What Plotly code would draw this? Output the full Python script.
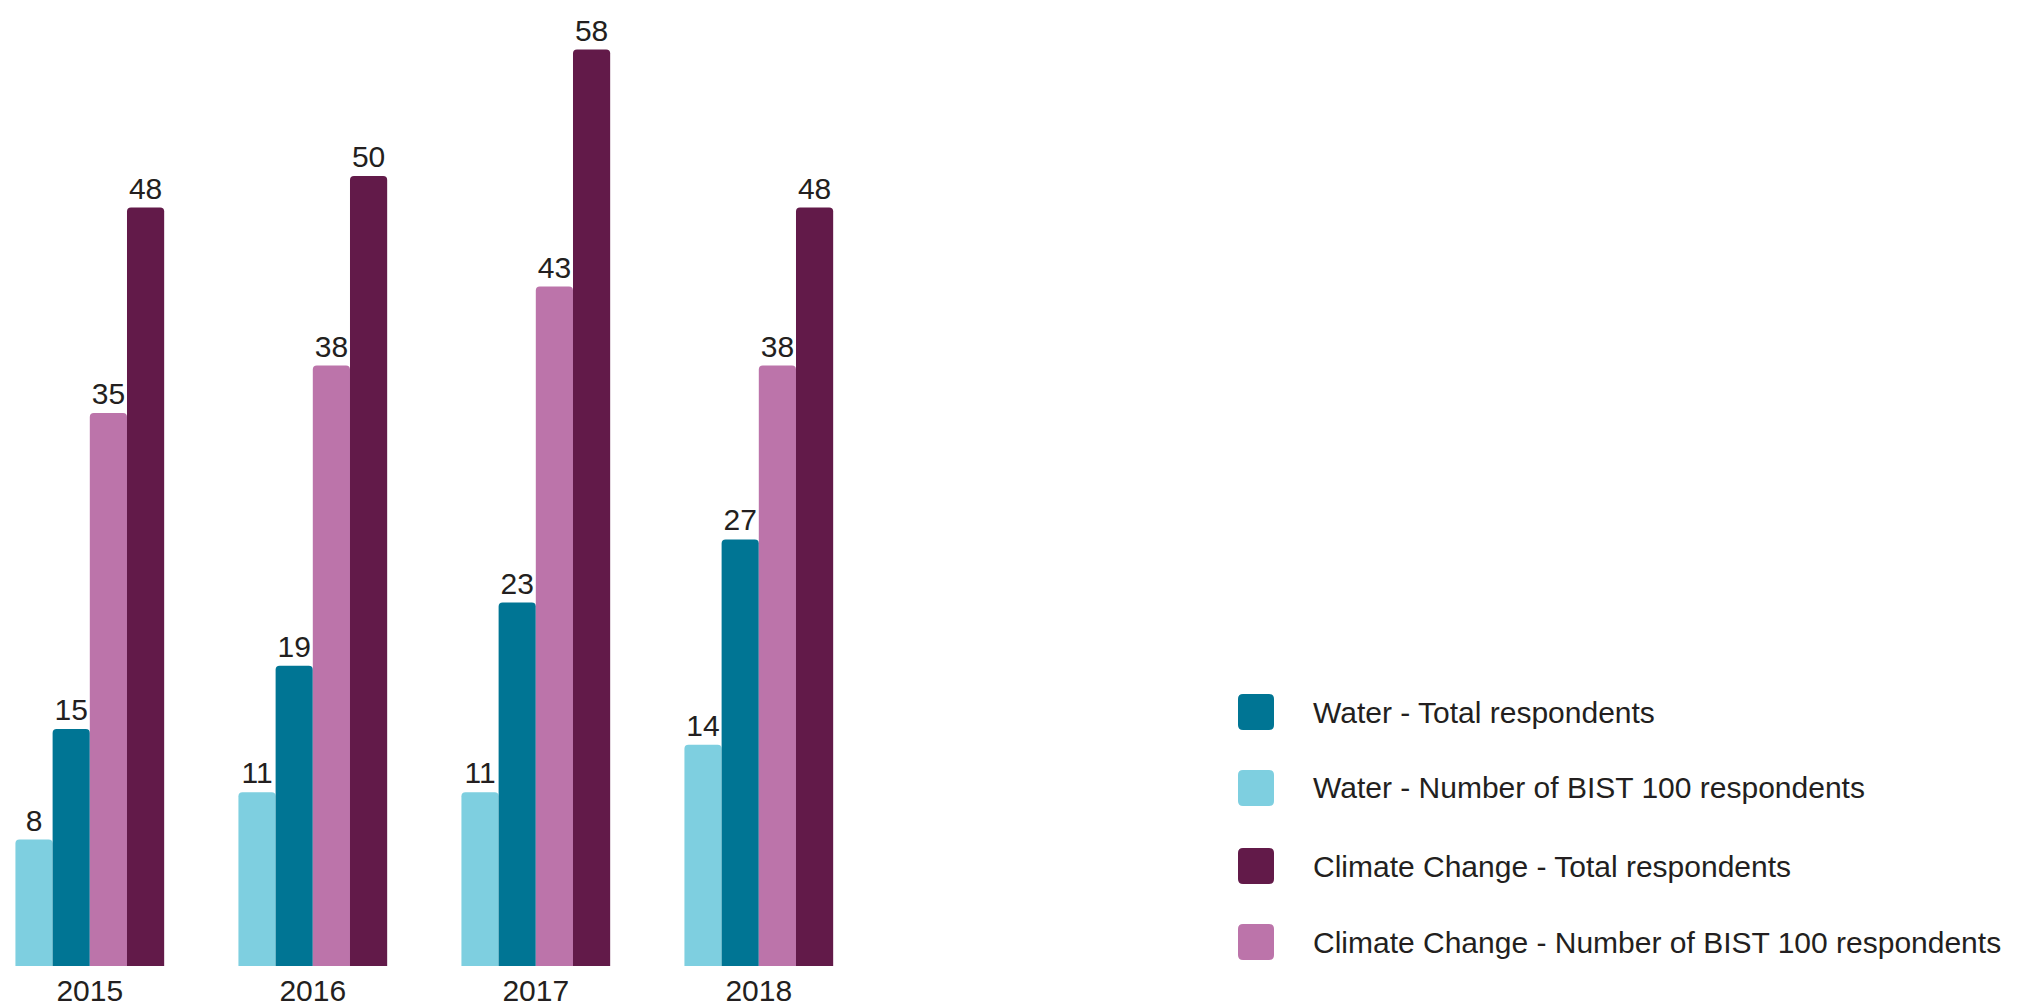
import plotly.graph_objects as go

years = ["2015", "2016", "2017", "2018"]
water_bist = [8, 11, 11, 14]
water_total = [15, 19, 23, 27]
climate_bist = [35, 38, 43, 38]
climate_total = [48, 50, 58, 48]

series_names = [
    "Water - Number of BIST 100 respondents",
    "Water - Total respondents",
    "Climate Change - Number of BIST 100 respondents",
    "Climate Change - Total respondents",
]
series_values = [water_bist, water_total, climate_bist, climate_total]
series_colors = ["#7ECFE0", "#007594", "#BC74AA", "#621A49"]

legend_order = [
    "Water - Total respondents",
    "Water - Number of BIST 100 respondents",
    "Climate Change - Total respondents",
    "Climate Change - Number of BIST 100 respondents",
]

FONT = "Liberation Sans, Arial, Helvetica, sans-serif"
TXT = "#231F20"
OFF = 8  # default body margin of the html page
W, H = 2026 - OFF, 1008 - OFF
BASE_Y = 966 - OFF          # baseline of bars in figure pixels
B = H - BASE_Y
PH = BASE_Y

fig = go.Figure()
for name, vals, col in zip(series_names, series_values, series_colors):
    fig.add_trace(go.Bar(
        x=years, y=vals, name=name, marker=dict(color=col, line=dict(width=0)),
        text=vals, textposition="outside", cliponaxis=False,
        textfont=dict(family=FONT, size=30, color=TXT),
        showlegend=False, hoverinfo="x+y+name",
    ))

# manual legend with large rounded swatches
color_of = dict(zip(series_names, series_colors))
y_centers = [712 - OFF, 788 - OFF, 866 - OFF, 942 - OFF]
sq = 36
r = 5
x_c = 1256 - OFF
x_text = 1311 - OFF
for name, yc in zip(legend_order, y_centers):
    h = sq / 2
    path = (f"M{-h+r},{-h} L{h-r},{-h} Q{h},{-h} {h},{-h+r} L{h},{h-r} Q{h},{h} {h-r},{h} "
            f"L{-h+r},{h} Q{-h},{h} {-h},{h-r} L{-h},{-h+r} Q{-h},{-h} {-h+r},{-h} Z")
    fig.add_shape(type="path", xref="paper", yref="paper",
                  xsizemode="pixel", ysizemode="pixel",
                  xanchor=x_c / W, yanchor=(PH - yc) / PH,
                  path=path, fillcolor=color_of[name], line=dict(width=0))
    fig.add_annotation(xref="paper", yref="paper", x=x_text / W, y=(PH - yc) / PH,
                       xanchor="left", yanchor="middle", showarrow=False,
                       text=name, font=dict(family=FONT, size=30, color=TXT))

cat_px = 223.0
first_center = 89.8 - OFF
x_end_px = 900
fig.update_layout(
    width=W, height=H,
    margin=dict(l=0, r=0, t=0, b=B, pad=0),
    paper_bgcolor="white", plot_bgcolor="white",
    barmode="group", bargap=0.333, bargroupgap=0,
    barcornerradius=4,
    font=dict(family=FONT, size=30, color=TXT),
    xaxis=dict(domain=[0, x_end_px / W], range=[-first_center / cat_px, -first_center / cat_px + x_end_px / cat_px],
               showgrid=False, zeroline=False, showline=False, ticks="",
               tickfont=dict(family=FONT, size=30, color=TXT), ticklabelstandoff=4),
    yaxis=dict(range=[0, PH / 15.8], showgrid=False, zeroline=False, showline=False,
               showticklabels=False, ticks=""),
)

fig.write_html("out.html")
